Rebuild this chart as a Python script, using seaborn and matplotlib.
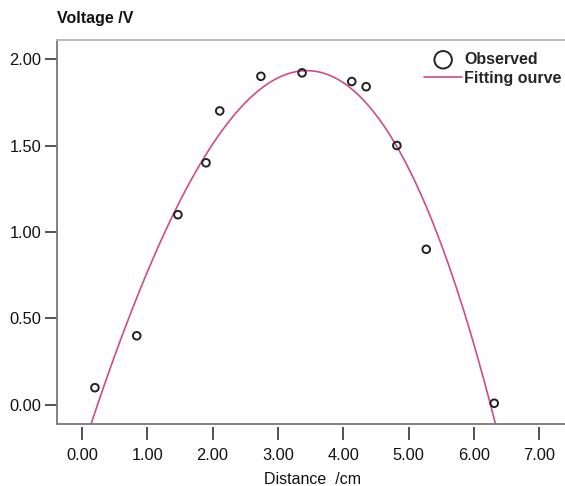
import numpy as np
import pandas as pd
import matplotlib
matplotlib.use("Agg")
import matplotlib.pyplot as plt
import seaborn as sns

# observed points
distance = [0.20, 0.84, 1.47, 1.90, 2.11, 2.74, 3.37, 4.13, 4.35, 4.82, 5.27, 6.31]
voltage = [0.10, 0.40, 1.10, 1.40, 1.70, 1.90, 1.92, 1.87, 1.84, 1.50, 0.90, 0.01]

x_ticks = [0, 1, 2, 3, 4, 5, 6, 7]
y_ticks = [0.0, 0.5, 1.0, 1.5, 2.0]

df = pd.DataFrame({"Distance": distance, "Voltage": voltage})

sns.set_style("white")
plt.rcParams["font.family"] = ["Liberation Sans", "DejaVu Sans"]

fig = plt.figure(figsize=(5.65, 4.86), dpi=100)
ax = fig.add_axes([57 / 565, 62 / 486, 515 / 565, 384 / 486])
ax.set_xlim(-0.38, 7.5)
ax.set_ylim(-0.11, 2.11)

curve_color = "#d04a8c"

sns.regplot(data=df, x="Distance", y="Voltage", order=3, ci=None, scatter=False,
            truncate=False, ax=ax, line_kws={"color": curve_color, "lw": 1.2},
            label="Fitting ourve")
sns.scatterplot(data=df, x="Distance", y="Voltage", ax=ax, s=30, marker="o",
                facecolor="none", edgecolor="#222222", linewidth=1.4,
                label="Observed", zorder=3)

ax.set_xlim(-0.38, 7.5)
ax.set_ylim(-0.11, 2.11)
ax.set_xticks(x_ticks)
ax.set_xticklabels([f"{v:.2f}" for v in x_ticks])
ax.set_yticks(y_ticks)
ax.set_yticklabels([f"{v:.2f}" for v in y_ticks])

ax.tick_params(axis="both", labelsize=11.8, labelcolor="#111111", direction="out",
               width=1.3, color="#444444", left=True, bottom=True)
ax.tick_params(axis="y", length=9, pad=2.5)
ax.tick_params(axis="x", length=9, pad=6)

ax.spines["right"].set_visible(False)
ax.spines["left"].set_color("#777777")
ax.spines["left"].set_linewidth(1.3)
ax.spines["top"].set_color("#b5b5b5")
ax.spines["top"].set_linewidth(1.3)
# ticks sit slightly below the frame, like the original
ax.spines["bottom"].set_position(("outward", 2.5))
ax.spines["bottom"].set_visible(False)
ax.plot([0, 1], [0, 0], transform=ax.transAxes, color="#777777", lw=1.3, clip_on=False)

ax.set_xlabel("")
ax.set_ylabel("")
fig.text(57 / 565, 1 - 18 / 486, "Voltage /V", ha="left", va="center",
         fontsize=11.5, fontweight="bold", color="#111111")
fig.text(312 / 565, 1 - 479 / 486, "Distance  /cm", ha="center", va="center",
         fontsize=11.5, color="#111111")

handles, labels = ax.get_legend_handles_labels()
order = [labels.index("Observed"), labels.index("Fitting ourve")]
leg = ax.legend([handles[i] for i in order], [labels[i] for i in order],
                loc="upper left", bbox_to_anchor=((412 - 57) / 515, 1.0), frameon=False,
                fontsize=11.5, handlelength=2.4, handletextpad=0.1, labelspacing=0.25,
                markerscale=2.3, borderaxespad=0.35)
for t in leg.get_texts():
    t.set_fontweight("bold")

fig.savefig("out.png", dpi=100)
